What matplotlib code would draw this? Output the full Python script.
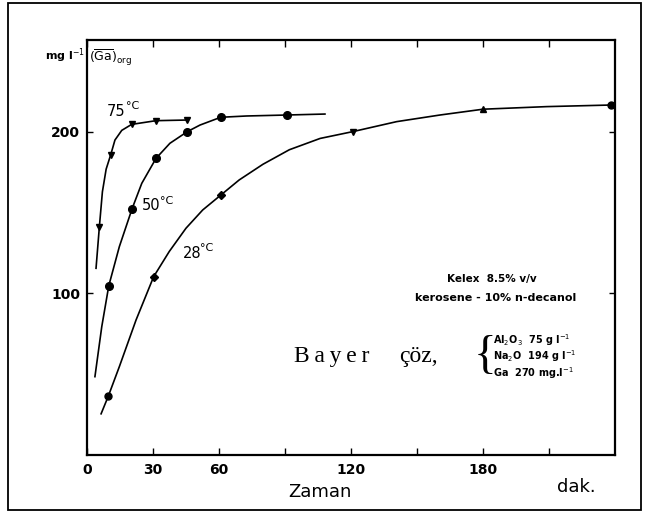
import numpy as np
import matplotlib
matplotlib.use('Agg')
import matplotlib.pyplot as plt
from matplotlib.patches import Rectangle

# measured points (time in min, Ga in organic phase, mg/l)
t75 = [5.6, 10.8, 20.3, 31.4, 45.6]
v75 = [141, 186, 204.7, 207, 207.4]
t50 = [9.9, 20.5, 31.4, 45.6, 60.8, 90.8]
v50 = [104.8, 152.5, 183.7, 200.2, 209.1, 210.5]
t28 = [9.7, 30.3, 60.9, 120.8, 180.1, 238.5]
v28 = [36.5, 110.4, 161, 200.2, 214.1, 216.7]

# hand-drawn curves
c75_t = [4.1, 5.6, 7.0, 8.7, 10.8, 12.7, 15.8, 20.3, 31.4, 45.6]
c75_v = [115.6, 141, 163, 177, 186, 195, 201, 204.7, 207, 207.4]
c50_t = [3.6, 6.7, 9.9, 14.7, 20.5, 24.9, 31.4, 37.7, 45.6, 51.4, 60.8, 72.6, 90.8, 108.2]
c50_v = [48.5, 79.4, 104.8, 129, 152.5, 168.2, 183.7, 193, 200.2, 204.3, 209.1, 209.9, 210.5, 211.1]
c28_t = [6.4, 9.7, 14.7, 22.3, 30.3, 37.4, 45.0, 52.6, 60.9, 69.2, 80, 92, 106, 120.8, 140.8,
         160.5, 180.1, 209, 238.5]
c28_v = [25.5, 36.5, 54.7, 83.6, 110.4, 126, 140.4, 151.7, 161, 170.3, 180, 189, 196, 200.2, 206.4,
         210.5, 214.1, 215.7, 216.7]

xticks = [0, 30, 60, 90, 120, 150, 180, 210]
xlabels = ['0', '30', '60', '', '120', '', '180', '']
yticks = [100, 200]

fig = plt.figure(figsize=(6.46, 5.15), dpi=100)
ax = fig.add_axes([0.1347, 0.1165, 0.817, 0.806])

fig.patches.append(Rectangle((8/646, 5/515), 633/646, 507/515, transform=fig.transFigure,
                             fill=False, lw=1.3, ec='black'))

ax.plot(c75_t, c75_v, 'k-', lw=1.2)
ax.plot(c50_t, c50_v, 'k-', lw=1.2)
ax.plot(c28_t, c28_v, 'k-', lw=1.2)

ax.plot(t75, v75, 'kv', ms=4)
ax.plot(t50, v50, 'ko', ms=5.5)
m28 = ['o', 'D', 'D', 'v', '^', 'o']
for t, v, m in zip(t28, v28, m28):
    ax.plot(t, v, color='k', marker=m, ms=5 if m != 'D' else 4.5, ls='none')

ax.set_xlim(0, 240)
ax.set_ylim(0, 257)
ax.set_xticks(xticks)
ax.set_xticklabels(xlabels, fontsize=10, fontweight='bold')
ax.set_yticks(yticks)
ax.set_yticklabels([str(y) for y in yticks], fontsize=10, fontweight='bold')
ax.tick_params(axis='x', direction='in', top=True, length=5, width=1, pad=6)
ax.tick_params(axis='y', direction='in', right=True, length=4, width=1, pad=5)
for s in ax.spines.values():
    s.set_linewidth(1.6)

# curve labels
ax.text(9.0, 210, '75', fontsize=10.5)
ax.text(17.5, 214, '°C', fontsize=8)
ax.text(25, 152, '50', fontsize=10.5)
ax.text(33, 155.5, '°C', fontsize=8)
ax.text(43.5, 122, '28', fontsize=10.5)
ax.text(51.5, 126.5, '°C', fontsize=8)

ax.text(-1, 247, r'mg l$^{-1}$', ha='right', va='center', fontsize=8, fontweight='bold', clip_on=False)
ax.text(1, 246, r'$(\overline{\mathrm{Ga}})_{\mathrm{org}}$', ha='left', va='center', fontsize=9)

ax.text(184, 109, 'Kelex  8.5% v/v', ha='center', va='center', fontsize=7.5, fontweight='bold')
ax.text(186, 97, 'kerosene - 10% n-decanol', ha='center', va='center', fontsize=8, fontweight='bold')

ax.text(94, 61, 'B\u2009a\u2009y\u2009e\u2009r', ha='left', va='center', fontsize=17,
        family=['Liberation Serif', 'DejaVu Serif'])
ax.text(142, 61, 'çöz,', ha='left', va='center', fontsize=17,
        family=['Liberation Serif', 'DejaVu Serif'])
ax.text(181, 61, '{', ha='center', va='center', fontsize=34, family='Liberation Serif', fontweight='light')
ax.text(184.5, 71, r'Al$_2$O$_3$  75 g l$^{-1}$', ha='left', va='center', fontsize=7, fontweight='bold')
ax.text(184.5, 61, r'Na$_2$O  194 g l$^{-1}$', ha='left', va='center', fontsize=7, fontweight='bold')
ax.text(184.5, 51, r'Ga  270 mg.l$^{-1}$', ha='left', va='center', fontsize=7, fontweight='bold')

fig.text(0.495, 0.045, 'Zaman', ha='center', va='center', fontsize=13)
fig.text(0.892, 0.054, 'dak.', ha='center', va='center', fontsize=13)

fig.savefig('out.png', dpi=100)
